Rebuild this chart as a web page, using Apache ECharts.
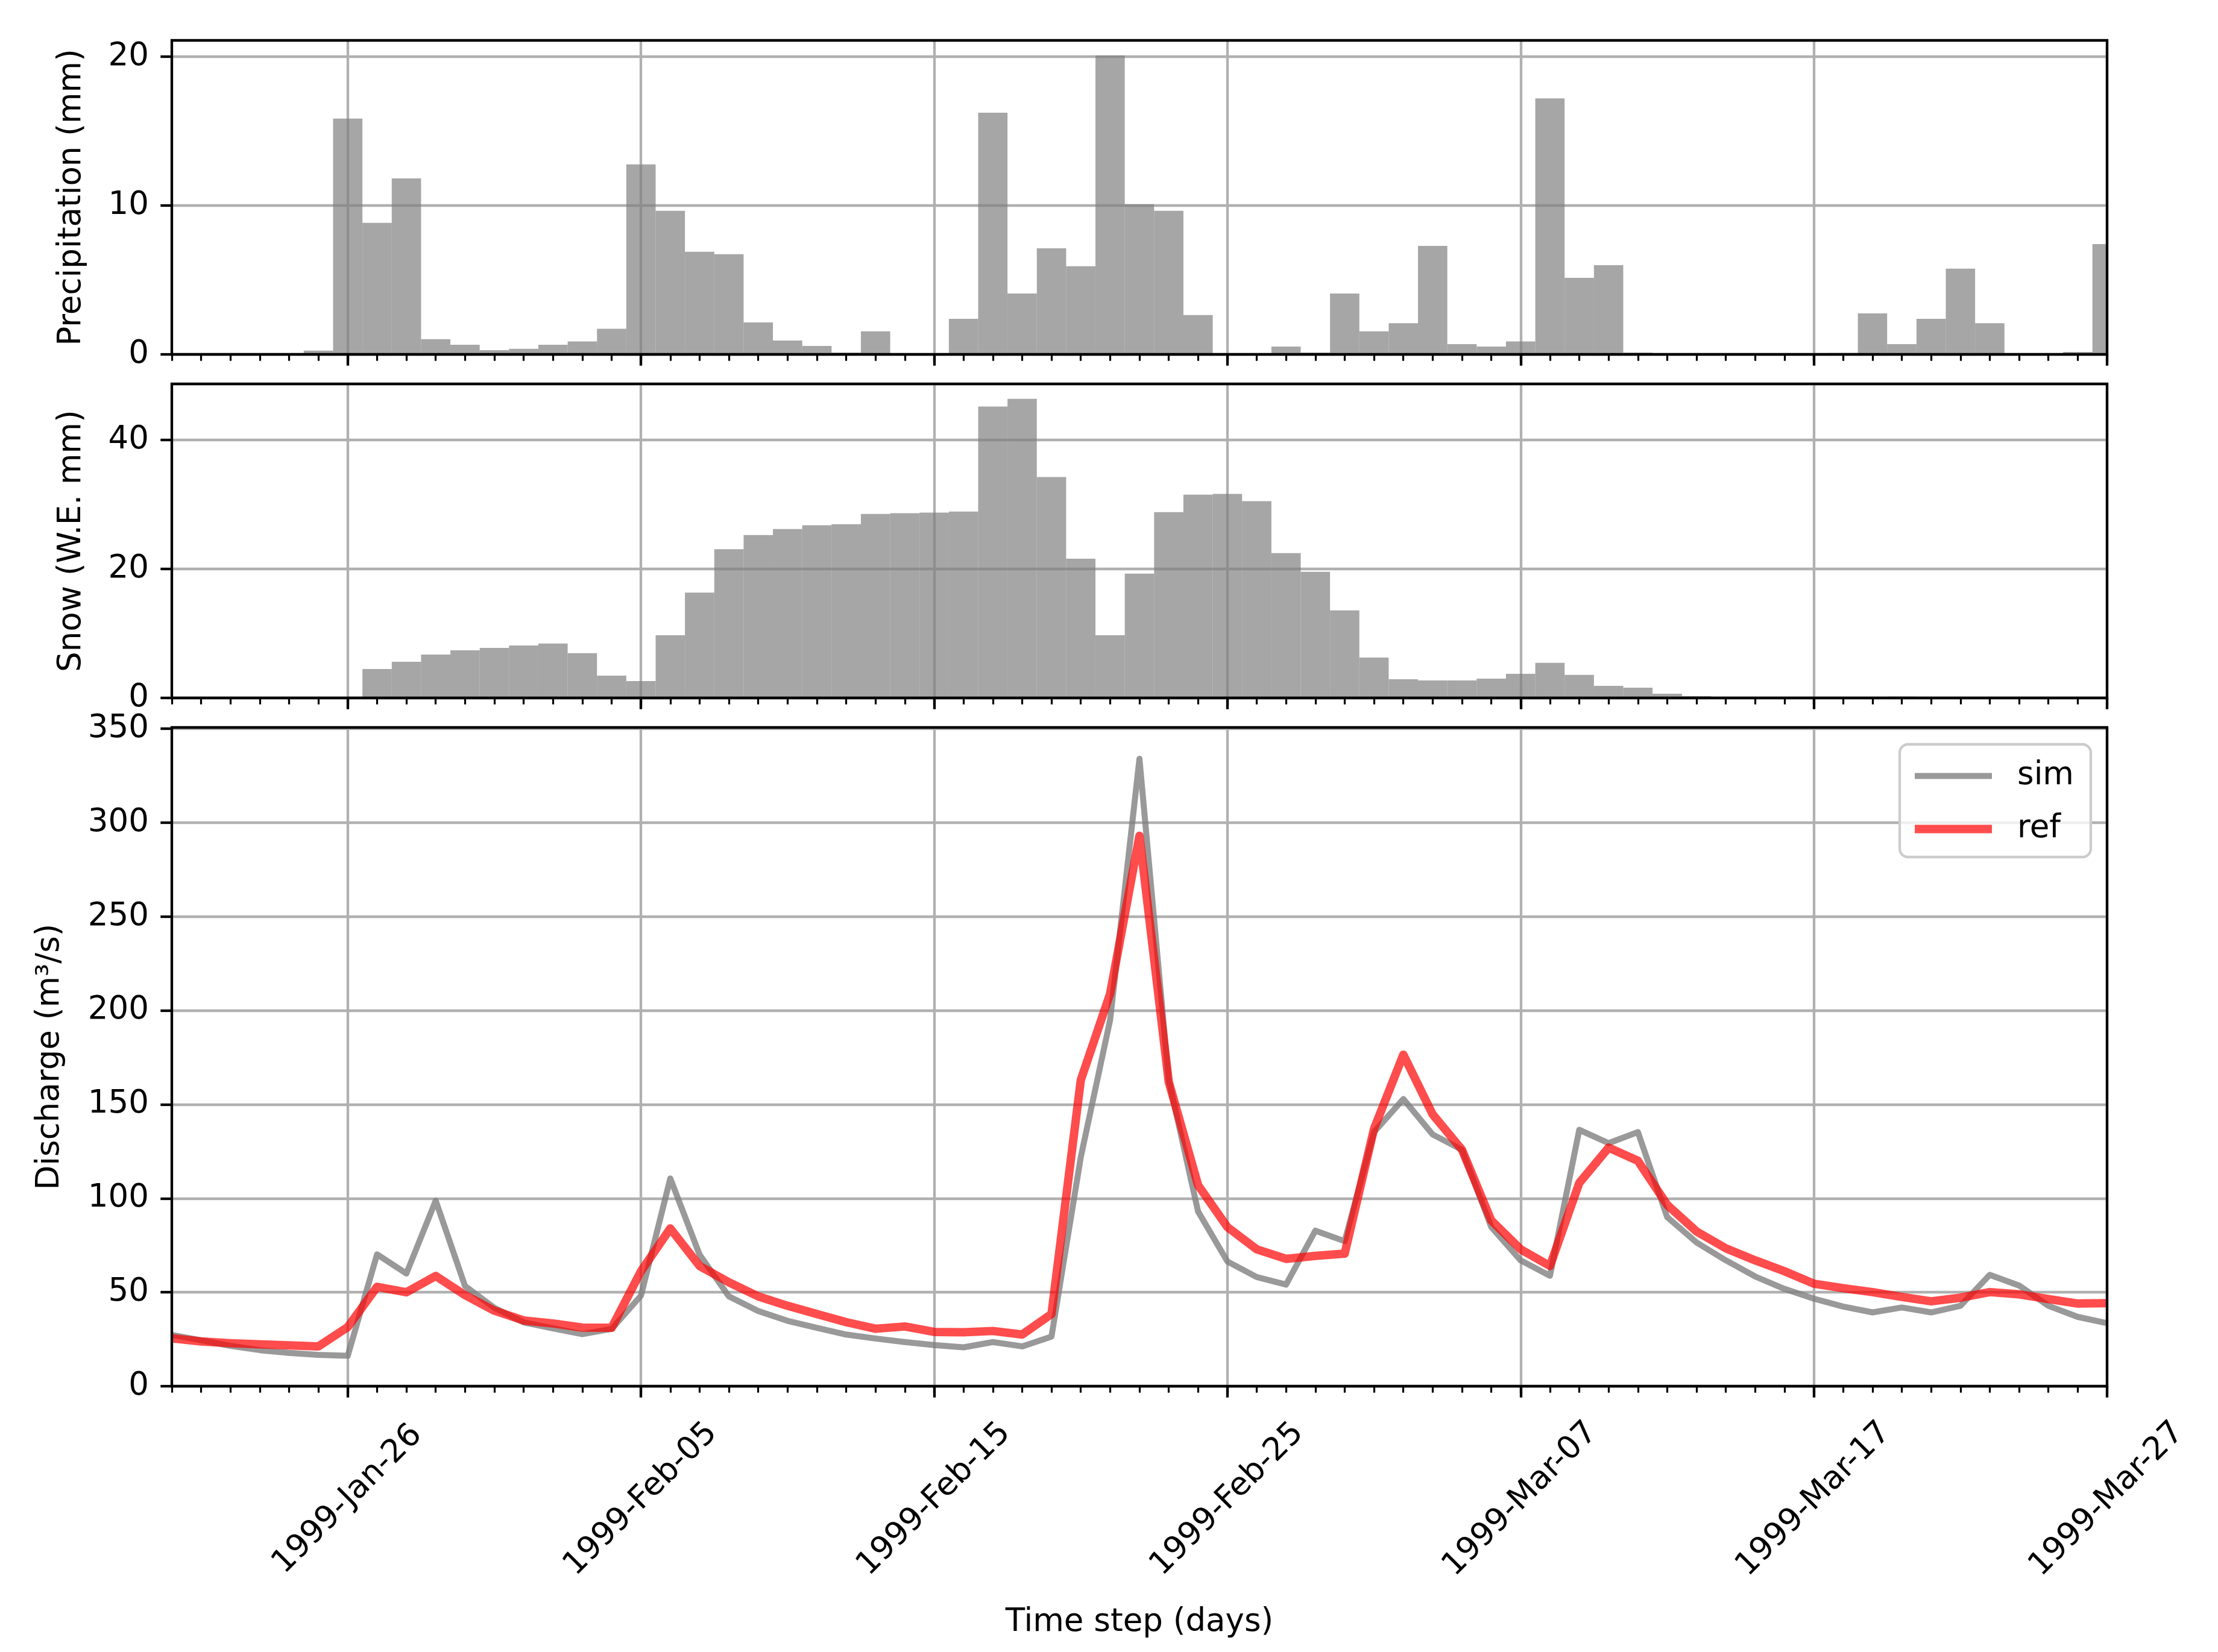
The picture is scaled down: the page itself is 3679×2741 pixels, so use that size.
<!DOCTYPE html>
<html lang="en">
<head>
<meta charset="UTF-8">
<title>Precipitation, snow and discharge</title>
<script src="https://cdn.jsdelivr.net/npm/echarts@6/dist/echarts.min.js"></script>
<style>
  html, body { margin: 0; padding: 0; background: #fff; }
  #chart { width: 3679px; height: 2741px; }
</style>
</head>
<body>
<div id="chart"></div>
<script>
// daily series, 1999-01-20 .. 1999-03-27
var startDate = [1999, 0, 20];
var nDays = 67;
var tickLabels = ['1999-Jan-26', '1999-Feb-05', '1999-Feb-15', '1999-Feb-25', '1999-Mar-07', '1999-Mar-17', '1999-Mar-27'];

var precip = [0, 0, 0, 0, 0, 0.25, 15.85, 8.84, 11.83, 1.02, 0.65, 0.28,
  0.37, 0.65, 0.87, 1.72, 12.77, 9.65, 6.89, 6.73, 2.15, 0.93, 0.57, 0.12, 1.55, 0.03,
  0, 2.39, 16.24, 4.09, 7.13, 5.92, 20.09, 10.09, 9.65, 2.64, 0.03, 0, 0.53, 0.12,
  4.09, 1.55, 2.1, 7.29, 0.69, 0.53, 0.87, 17.2, 5.14, 5.99, 0.12, 0.02, 0, 0,
  0, 0, 0, 0.09, 2.75, 0.69, 2.39, 5.76, 2.1, 0.02, 0.03, 0.16, 7.41];

var snow = [0, 0, 0, 0, 0, 0, 0, 4.49, 5.61, 6.73, 7.38, 7.76,
  8.13, 8.44, 6.94, 3.47, 2.62, 9.73, 16.33, 23.06, 25.27, 26.19, 26.77, 26.94, 28.54, 28.64,
  28.74, 28.91, 45.2, 46.39, 34.25, 21.6, 9.73, 19.29, 28.81, 31.53, 31.63, 30.51, 22.45, 19.56,
  13.57, 6.26, 2.89, 2.72, 2.72, 2.99, 3.74, 5.44, 3.57, 1.87, 1.6, 0.65, 0.27, 0.1,
  0.02, 0.01, 0.01, 0.02, 0.07, 0.2, 0.03, 0.01, 0.03, 0, 0, 0, 0];

var sim = [27.3, 24.4, 21.5, 19.2, 17.7, 16.7, 16.2, 70.2, 60, 98.8, 53.3, 41.7,
  34, 30.8, 27.7, 30.5, 48.2, 110.6, 70, 47.8, 40, 34.8, 31.1, 27.5, 25.4, 23.5,
  21.9, 20.7, 23.5, 21.2, 26.4, 122, 195, 334, 163, 93, 66.4, 58.1, 54.1, 82.8,
  77.2, 135.3, 152.9, 134, 125.9, 84.7, 67, 58.8, 136.5, 129.4, 135.3, 90, 76.5, 67,
  58.4, 51.8, 46.6, 42.4, 39.3, 41.9, 39.3, 42.8, 59.3, 53.6, 42.8, 36.9, 33.6];

var ref = [25.5, 23.8, 22.9, 22.3, 21.7, 21.2, 31.5, 52.9, 50, 58.7, 48.5, 40.2,
  35, 33.4, 31.2, 31.1, 61.2, 84, 64, 55.3, 47.8, 42.8, 38.4, 34.1, 30.6, 31.8,
  28.9, 28.7, 29.4, 27.5, 38.4, 163, 209, 293, 162, 107, 84.7, 72.9, 67.8, 69.4,
  70.6, 137, 176.5, 144.7, 125.9, 88.2, 72.9, 64, 108.2, 127, 120, 96.5, 82.4, 73.4,
  67, 61.2, 54.6, 52.2, 50.1, 47.5, 45.2, 47.1, 50.1, 48.9, 46.4, 44, 44.2];

var MONTHS = ['Jan', 'Feb', 'Mar', 'Apr', 'May', 'Jun', 'Jul', 'Aug', 'Sep', 'Oct', 'Nov', 'Dec'];
var days = [];
for (var i = 0; i < nDays; i++) {
  var d = new Date(Date.UTC(startDate[0], startDate[1], startDate[2] + i));
  var dd = d.getUTCDate();
  days.push(d.getUTCFullYear() + '-' + MONTHS[d.getUTCMonth()] + '-' + (dd < 10 ? '0' + dd : dd));
}
function isMajor(idx) { return tickLabels.indexOf(days[idx]) >= 0; }

var FONT = 'DejaVu Sans';
var FS = 53;
var GRIDC = '#b0b0b0';
var LW = 4.3;
var BARC = 'rgba(128,128,128,0.7)';

var grids = [
  { left: 285, right: 184, top: 67, height: 521 },
  { left: 285, right: 184, top: 637, height: 521 },
  { left: 285, right: 184, top: 1207, height: 1093 }
];
grids.forEach(function (g) {
  g.show = true; g.z = 10;
  g.borderColor = '#000'; g.borderWidth = LW;
  g.backgroundColor = 'transparent';
});

var xAxes = [];
[0, 1, 2].forEach(function (g) {
  // minor day ticks
  xAxes.push({
    type: 'category', gridIndex: g, data: days, boundaryGap: false, position: 'bottom',
    axisLine: { show: false },
    axisTick: { show: true, interval: 0, length: 10.7, lineStyle: { color: '#000', width: 3.2 } },
    axisLabel: { show: false },
    splitLine: { show: false }
  });
  // major ticks, gridlines, labels
  xAxes.push({
    type: 'category', gridIndex: g, data: days, boundaryGap: false, position: 'bottom',
    axisLine: { show: false },
    axisTick: { show: true, interval: isMajor, length: 18.7, lineStyle: { color: '#000', width: LW } },
    axisLabel: {
      show: g === 2, interval: isMajor, rotate: 45, align: 'center', verticalAlign: 'middle',
      margin: 188, fontFamily: FONT, fontSize: FS, color: '#000'
    },
    splitLine: { show: true, interval: isMajor, lineStyle: { color: GRIDC, width: LW } },
    name: g === 2 ? 'Time step (days)' : '',
    nameLocation: 'middle', nameGap: 366,
    nameTextStyle: { fontFamily: FONT, fontSize: FS, color: '#000' }
  });
});

function yAxis(g, max, ticks, name, gap) {
  return {
    type: 'value', gridIndex: g, min: 0, max: max,
    axisLine: { show: false },
    axisTick: { show: true, length: 18.7, customValues: ticks, lineStyle: { color: '#000', width: LW } },
    axisLabel: {
      customValues: ticks, margin: 38, fontFamily: FONT, fontSize: FS, color: '#000',
      formatter: function (v) { return ticks.indexOf(v) >= 0 ? String(v) : ''; }
    },
    splitLine: { show: true, lineStyle: { color: GRIDC, width: LW } },
    name: name, nameLocation: 'middle', nameGap: gap,
    nameTextStyle: { fontFamily: FONT, fontSize: FS, color: '#000' }
  };
}

// one full-width bar per day, centred on the day and cut at the plot frame
function dayBars(params, api) {
  var idx = api.value(0);
  var top = api.coord([idx, api.value(1)]);
  var base = api.coord([idx, 0]);
  var w = api.size([1, 0])[0];
  var cs = params.coordSys;
  var rect = echarts.graphic.clipRectByRect(
    { x: base[0] - w / 2, y: top[1], width: w, height: base[1] - top[1] },
    { x: cs.x, y: cs.y, width: cs.width, height: cs.height }
  );
  return rect && { type: 'rect', shape: rect, style: { fill: BARC } };
}

function pairs(arr) { return arr.map(function (v, k) { return [k, v]; }); }

var option = {
  animation: false,
  backgroundColor: '#fff',
  textStyle: { fontFamily: FONT },
  grid: grids,
  xAxis: xAxes,
  yAxis: [
    yAxis(0, 21.1, [0, 10, 20], 'Precipitation (mm)', 139),
    yAxis(1, 48.7, [0, 20, 40], 'Snow (W.E. mm)', 139),
    yAxis(2, 350.7, [0, 50, 100, 150, 200, 250, 300, 350], 'Discharge (m³/s)', 175)
  ],
  legend: {
    orient: 'vertical', right: 211, top: 1235,
    data: ['sim', 'ref'],
    itemWidth: 128, itemHeight: 20, itemGap: 35,
    padding: [26, 28, 20, 18],
    backgroundColor: 'rgba(255,255,255,0.8)',
    borderColor: '#cccccc', borderWidth: 4.3, borderRadius: 14,
    itemStyle: { opacity: 0 },
    lineStyle: { width: 'inherit' },
    textStyle: { fontFamily: FONT, fontSize: FS, color: '#000', padding: [0, 0, 0, 37] },
    selectedMode: false
  },
  series: [
    {
      name: 'Precipitation', type: 'custom', xAxisIndex: 1, yAxisIndex: 0,
      data: pairs(precip), encode: { x: 0, y: 1 }, renderItem: dayBars
    },
    {
      name: 'Snow', type: 'custom', xAxisIndex: 3, yAxisIndex: 1,
      data: pairs(snow), encode: { x: 0, y: 1 }, renderItem: dayBars
    },
    {
      name: 'sim', type: 'line', xAxisIndex: 5, yAxisIndex: 2, data: sim,
      symbol: 'none', showSymbol: false,
      lineStyle: { color: 'rgba(128,128,128,0.8)', width: 10, join: 'round' },
      itemStyle: { color: 'rgba(128,128,128,0.8)' }
    },
    {
      name: 'ref', type: 'line', xAxisIndex: 5, yAxisIndex: 2, data: ref,
      symbol: 'none', showSymbol: false,
      lineStyle: { color: 'rgba(255,0,0,0.7)', width: 14, join: 'round' },
      itemStyle: { color: 'rgba(255,0,0,0.7)' }
    }
  ]
};

var chart = echarts.init(document.getElementById('chart'));
chart.setOption(option);
</script>
</body>
</html>
